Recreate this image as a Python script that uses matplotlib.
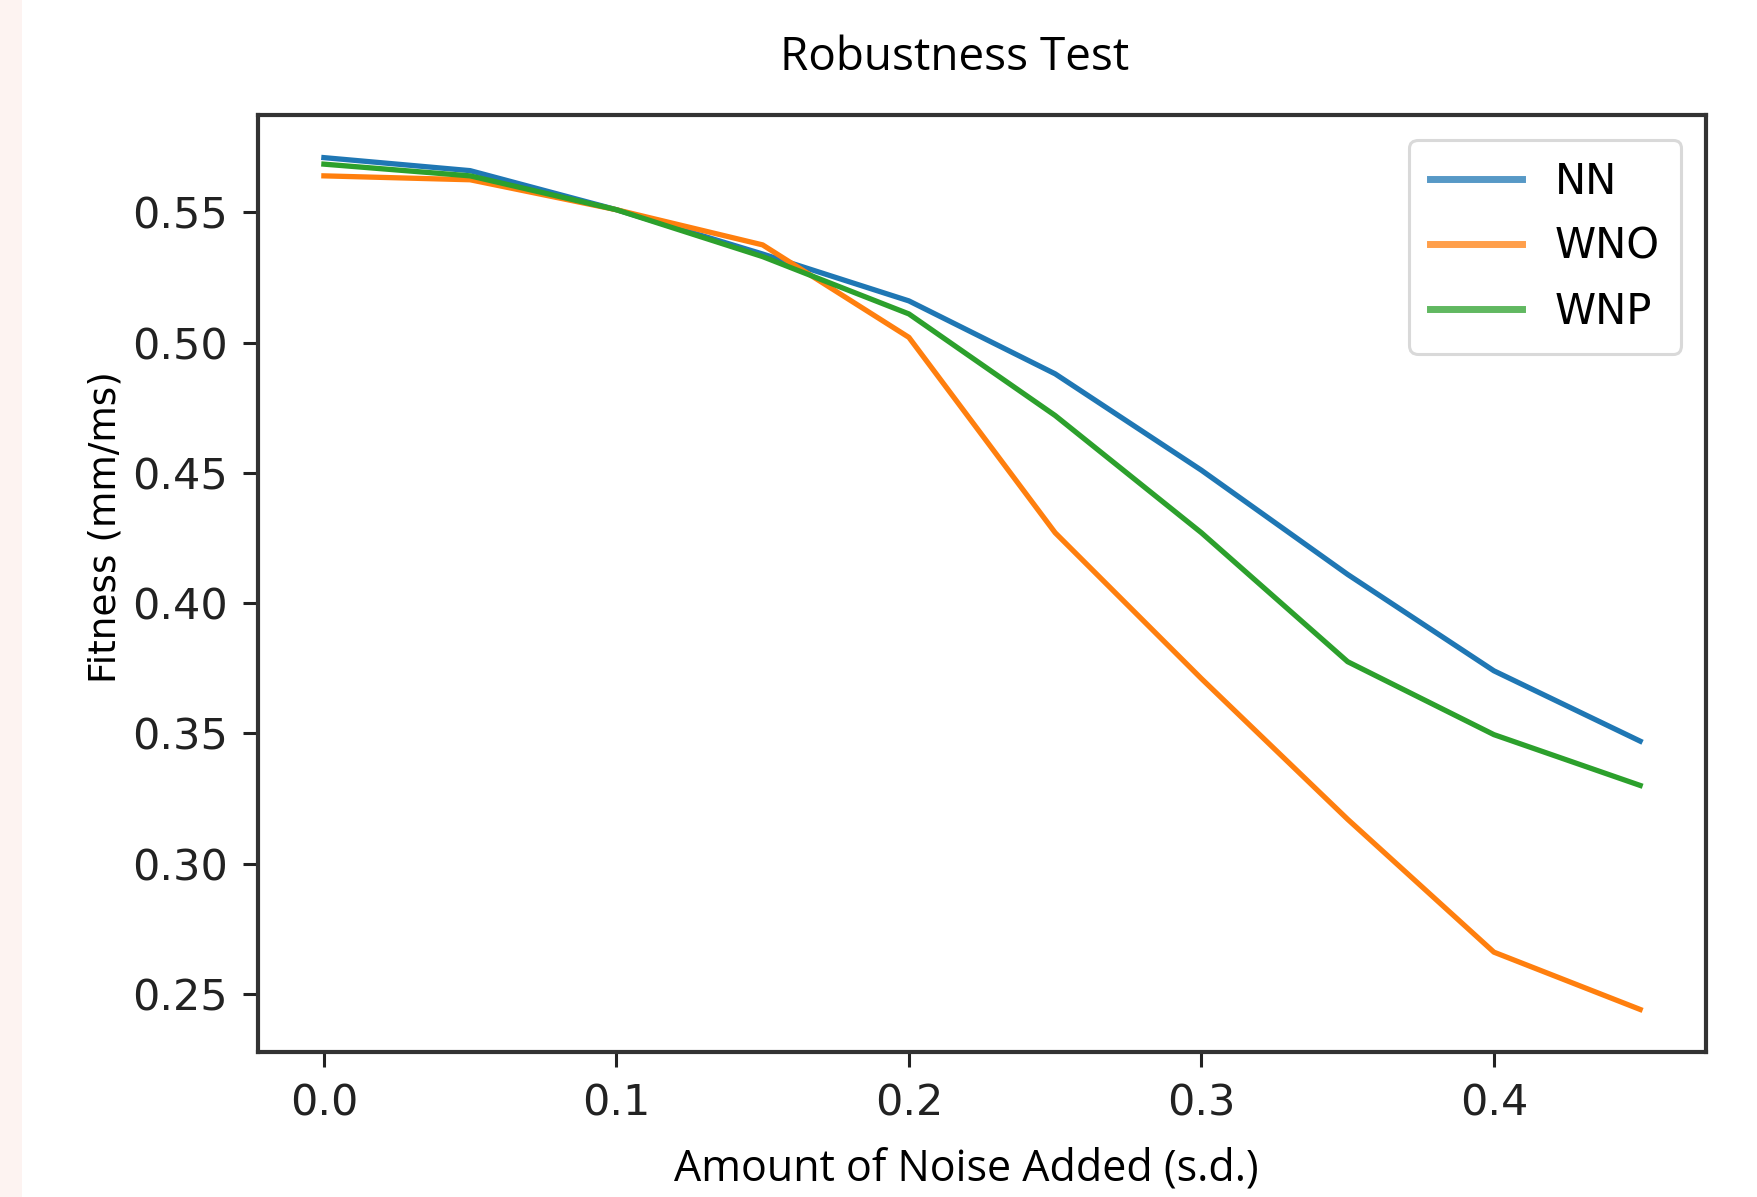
import numpy as np
import matplotlib.pyplot as plt

noise = [0.0, 0.05, 0.1, 0.15, 0.2, 0.25, 0.3, 0.35, 0.4, 0.45]
nn = [0.571, 0.566, 0.551, 0.534, 0.516, 0.488, 0.451, 0.411, 0.374, 0.347]
wno = [0.564, 0.5625, 0.551, 0.5375, 0.502, 0.427, 0.371, 0.317, 0.266, 0.244]
wnp = [0.5685, 0.564, 0.551, 0.533, 0.511, 0.472, 0.427, 0.3775, 0.3495, 0.330]
xticks = [0.0, 0.1, 0.2, 0.3, 0.4]
yticks = [0.25, 0.30, 0.35, 0.40, 0.45, 0.50, 0.55]

fig = plt.figure(figsize=(17.58, 11.97), dpi=100)
fig.patch.set_facecolor('white')
# pale strip on the left edge
fig.patches.append(plt.Rectangle((0, 0), 22 / 1758, 1, transform=fig.transFigure,
                                 facecolor='#fdf3f1', edgecolor='none'))

ax = fig.add_axes([0.1468, 0.1211, 0.9704 - 0.1468, 0.9039 - 0.1211])
ax.plot(noise, nn, color='#1f77b4', lw=3.8, label='NN')
ax.plot(noise, wno, color='#ff7f0e', lw=3.8, label='WNO')
ax.plot(noise, wnp, color='#2ca02c', lw=3.8, label='WNP')

ax.set_xticks(xticks)
ax.set_yticks(yticks)
ax.set_xticklabels(['%.1f' % v for v in xticks])
ax.set_yticklabels(['%.2f' % v for v in yticks])
ax.tick_params(labelsize=31, length=11, width=2.2, pad=11, colors='#222222')
for s in ax.spines.values():
    s.set_linewidth(3)
    s.set_color('#333333')

leg = ax.legend(loc='upper right', fontsize=30, handlelength=2.2, handletextpad=0.8,
                labelspacing=0.55, borderpad=0.5, borderaxespad=0.6,
                framealpha=0.8, fancybox=True)
leg.get_frame().set_linewidth(2.2)
leg.get_frame().set_edgecolor('#d0d0d0')
for h in leg.get_lines():
    h.set_linewidth(5)
    h.set_alpha(0.75)

fig.text(955 / 1758, 1 - 58 / 1197, 'Robustness Test', ha='center', va='center',
         fontsize=33, family='Open Sans')
fig.text(966 / 1758, 1 - 1169 / 1197, 'Amount of Noise Added (s.d.)', ha='center',
         va='center', fontsize=31, family='Open Sans')
fig.text(106 / 1758, 1 - 527 / 1197, 'Fitness (mm/ms)', ha='center', va='center',
         rotation=90, fontsize=27)

plt.savefig('out.png', dpi=100)
